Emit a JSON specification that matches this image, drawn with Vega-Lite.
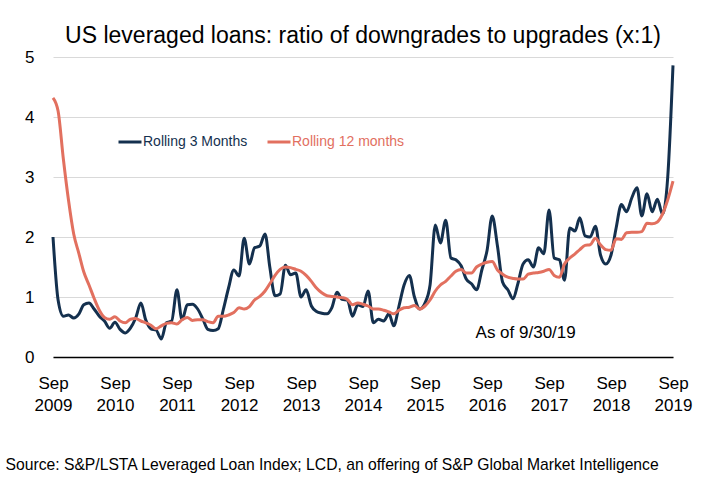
{
  "$schema": "https://vega.github.io/schema/vega-lite/v6.json",
  "width": 620,
  "height": 300,
  "autosize": {"type": "none"},
  "padding": {"left": 53, "top": 57, "right": 36, "bottom": 130},
  "background": "white",
  "title": {"text": "US leveraged loans: ratio of downgrades to upgrades (x:1)", "fontSize": 23, "font": "Liberation Sans", "fontWeight": "normal", "color": "#000000", "anchor": "middle", "offset": 4, "dy": 4},
  "config": {"view": {"stroke": null}, "font": "Liberation Sans"},
  "layer": [
    {
      "data": {"values": [
        {"date": "2009-09-01", "Rolling 3 Months": 2.0, "Rolling 12 months": 4.32},
        {"date": "2009-10-01", "Rolling 3 Months": 0.95, "Rolling 12 months": 4.1},
        {"date": "2009-11-01", "Rolling 3 Months": 0.68, "Rolling 12 months": 3.3},
        {"date": "2009-12-01", "Rolling 3 Months": 0.7, "Rolling 12 months": 2.62},
        {"date": "2010-01-01", "Rolling 3 Months": 0.65, "Rolling 12 months": 2.05},
        {"date": "2010-02-01", "Rolling 3 Months": 0.72, "Rolling 12 months": 1.72},
        {"date": "2010-03-01", "Rolling 3 Months": 0.87, "Rolling 12 months": 1.42},
        {"date": "2010-04-01", "Rolling 3 Months": 0.9, "Rolling 12 months": 1.2},
        {"date": "2010-05-01", "Rolling 3 Months": 0.8, "Rolling 12 months": 0.98},
        {"date": "2010-06-01", "Rolling 3 Months": 0.68, "Rolling 12 months": 0.78},
        {"date": "2010-07-01", "Rolling 3 Months": 0.6, "Rolling 12 months": 0.66},
        {"date": "2010-08-01", "Rolling 3 Months": 0.48, "Rolling 12 months": 0.63},
        {"date": "2010-09-01", "Rolling 3 Months": 0.58, "Rolling 12 months": 0.67},
        {"date": "2010-10-01", "Rolling 3 Months": 0.46, "Rolling 12 months": 0.6},
        {"date": "2010-11-01", "Rolling 3 Months": 0.4, "Rolling 12 months": 0.57},
        {"date": "2010-12-01", "Rolling 3 Months": 0.48, "Rolling 12 months": 0.63},
        {"date": "2011-01-01", "Rolling 3 Months": 0.65, "Rolling 12 months": 0.64},
        {"date": "2011-02-01", "Rolling 3 Months": 0.9, "Rolling 12 months": 0.6},
        {"date": "2011-03-01", "Rolling 3 Months": 0.62, "Rolling 12 months": 0.57},
        {"date": "2011-04-01", "Rolling 3 Months": 0.47, "Rolling 12 months": 0.53},
        {"date": "2011-05-01", "Rolling 3 Months": 0.45, "Rolling 12 months": 0.47},
        {"date": "2011-06-01", "Rolling 3 Months": 0.3, "Rolling 12 months": 0.52},
        {"date": "2011-07-01", "Rolling 3 Months": 0.57, "Rolling 12 months": 0.56},
        {"date": "2011-08-01", "Rolling 3 Months": 0.6, "Rolling 12 months": 0.57},
        {"date": "2011-09-01", "Rolling 3 Months": 1.12, "Rolling 12 months": 0.55},
        {"date": "2011-10-01", "Rolling 3 Months": 0.62, "Rolling 12 months": 0.62},
        {"date": "2011-11-01", "Rolling 3 Months": 0.87, "Rolling 12 months": 0.66},
        {"date": "2011-12-01", "Rolling 3 Months": 0.88, "Rolling 12 months": 0.61},
        {"date": "2012-01-01", "Rolling 3 Months": 0.8, "Rolling 12 months": 0.62},
        {"date": "2012-02-01", "Rolling 3 Months": 0.63, "Rolling 12 months": 0.62},
        {"date": "2012-03-01", "Rolling 3 Months": 0.46, "Rolling 12 months": 0.59},
        {"date": "2012-04-01", "Rolling 3 Months": 0.44, "Rolling 12 months": 0.57},
        {"date": "2012-05-01", "Rolling 3 Months": 0.47, "Rolling 12 months": 0.68},
        {"date": "2012-06-01", "Rolling 3 Months": 0.8, "Rolling 12 months": 0.68},
        {"date": "2012-07-01", "Rolling 3 Months": 1.15, "Rolling 12 months": 0.7},
        {"date": "2012-08-01", "Rolling 3 Months": 1.45, "Rolling 12 months": 0.74},
        {"date": "2012-09-01", "Rolling 3 Months": 1.35, "Rolling 12 months": 0.82},
        {"date": "2012-10-01", "Rolling 3 Months": 1.98, "Rolling 12 months": 0.8},
        {"date": "2012-11-01", "Rolling 3 Months": 1.55, "Rolling 12 months": 0.84},
        {"date": "2012-12-01", "Rolling 3 Months": 1.82, "Rolling 12 months": 0.95},
        {"date": "2013-01-01", "Rolling 3 Months": 1.85, "Rolling 12 months": 1.01},
        {"date": "2013-02-01", "Rolling 3 Months": 2.05, "Rolling 12 months": 1.1},
        {"date": "2013-03-01", "Rolling 3 Months": 1.5, "Rolling 12 months": 1.22},
        {"date": "2013-04-01", "Rolling 3 Months": 1.02, "Rolling 12 months": 1.36},
        {"date": "2013-05-01", "Rolling 3 Months": 1.05, "Rolling 12 months": 1.46},
        {"date": "2013-06-01", "Rolling 3 Months": 1.53, "Rolling 12 months": 1.5},
        {"date": "2013-07-01", "Rolling 3 Months": 1.37, "Rolling 12 months": 1.49},
        {"date": "2013-08-01", "Rolling 3 Months": 1.4, "Rolling 12 months": 1.46},
        {"date": "2013-09-01", "Rolling 3 Months": 1.0, "Rolling 12 months": 1.43},
        {"date": "2013-10-01", "Rolling 3 Months": 1.12, "Rolling 12 months": 1.36},
        {"date": "2013-11-01", "Rolling 3 Months": 0.85, "Rolling 12 months": 1.26},
        {"date": "2013-12-01", "Rolling 3 Months": 0.76, "Rolling 12 months": 1.15},
        {"date": "2014-01-01", "Rolling 3 Months": 0.73, "Rolling 12 months": 1.07},
        {"date": "2014-02-01", "Rolling 3 Months": 0.72, "Rolling 12 months": 1.02},
        {"date": "2014-03-01", "Rolling 3 Months": 0.82, "Rolling 12 months": 1.01},
        {"date": "2014-04-01", "Rolling 3 Months": 1.08, "Rolling 12 months": 1.0},
        {"date": "2014-05-01", "Rolling 3 Months": 0.96, "Rolling 12 months": 0.99},
        {"date": "2014-06-01", "Rolling 3 Months": 0.95, "Rolling 12 months": 0.96},
        {"date": "2014-07-01", "Rolling 3 Months": 0.68, "Rolling 12 months": 0.87},
        {"date": "2014-08-01", "Rolling 3 Months": 0.87, "Rolling 12 months": 0.9},
        {"date": "2014-09-01", "Rolling 3 Months": 0.84, "Rolling 12 months": 0.88},
        {"date": "2014-10-01", "Rolling 3 Months": 1.1, "Rolling 12 months": 0.85},
        {"date": "2014-11-01", "Rolling 3 Months": 0.57, "Rolling 12 months": 0.8},
        {"date": "2014-12-01", "Rolling 3 Months": 0.63, "Rolling 12 months": 0.8},
        {"date": "2015-01-01", "Rolling 3 Months": 0.6, "Rolling 12 months": 0.78},
        {"date": "2015-02-01", "Rolling 3 Months": 0.72, "Rolling 12 months": 0.75},
        {"date": "2015-03-01", "Rolling 3 Months": 0.52, "Rolling 12 months": 0.72},
        {"date": "2015-04-01", "Rolling 3 Months": 0.85, "Rolling 12 months": 0.78},
        {"date": "2015-05-01", "Rolling 3 Months": 1.2, "Rolling 12 months": 0.82},
        {"date": "2015-06-01", "Rolling 3 Months": 1.36, "Rolling 12 months": 0.83},
        {"date": "2015-07-01", "Rolling 3 Months": 1.0, "Rolling 12 months": 0.86},
        {"date": "2015-08-01", "Rolling 3 Months": 0.8, "Rolling 12 months": 0.8},
        {"date": "2015-09-01", "Rolling 3 Months": 0.9, "Rolling 12 months": 0.85},
        {"date": "2015-10-01", "Rolling 3 Months": 1.2, "Rolling 12 months": 0.95},
        {"date": "2015-11-01", "Rolling 3 Months": 2.2, "Rolling 12 months": 1.1},
        {"date": "2015-12-01", "Rolling 3 Months": 1.9, "Rolling 12 months": 1.2},
        {"date": "2016-01-01", "Rolling 3 Months": 2.28, "Rolling 12 months": 1.26},
        {"date": "2016-02-01", "Rolling 3 Months": 1.65, "Rolling 12 months": 1.35},
        {"date": "2016-03-01", "Rolling 3 Months": 1.62, "Rolling 12 months": 1.43},
        {"date": "2016-04-01", "Rolling 3 Months": 1.52, "Rolling 12 months": 1.46},
        {"date": "2016-05-01", "Rolling 3 Months": 1.3, "Rolling 12 months": 1.4},
        {"date": "2016-06-01", "Rolling 3 Months": 1.22, "Rolling 12 months": 1.4},
        {"date": "2016-07-01", "Rolling 3 Months": 1.12, "Rolling 12 months": 1.5},
        {"date": "2016-08-01", "Rolling 3 Months": 1.45, "Rolling 12 months": 1.55},
        {"date": "2016-09-01", "Rolling 3 Months": 1.78, "Rolling 12 months": 1.58},
        {"date": "2016-10-01", "Rolling 3 Months": 2.35, "Rolling 12 months": 1.59},
        {"date": "2016-11-01", "Rolling 3 Months": 1.85, "Rolling 12 months": 1.45},
        {"date": "2016-12-01", "Rolling 3 Months": 1.25, "Rolling 12 months": 1.38},
        {"date": "2017-01-01", "Rolling 3 Months": 1.12, "Rolling 12 months": 1.33},
        {"date": "2017-02-01", "Rolling 3 Months": 0.97, "Rolling 12 months": 1.31},
        {"date": "2017-03-01", "Rolling 3 Months": 1.22, "Rolling 12 months": 1.3},
        {"date": "2017-04-01", "Rolling 3 Months": 1.55, "Rolling 12 months": 1.3},
        {"date": "2017-05-01", "Rolling 3 Months": 1.62, "Rolling 12 months": 1.38},
        {"date": "2017-06-01", "Rolling 3 Months": 1.5, "Rolling 12 months": 1.4},
        {"date": "2017-07-01", "Rolling 3 Months": 1.82, "Rolling 12 months": 1.41},
        {"date": "2017-08-01", "Rolling 3 Months": 1.72, "Rolling 12 months": 1.43},
        {"date": "2017-09-01", "Rolling 3 Months": 2.45, "Rolling 12 months": 1.46},
        {"date": "2017-10-01", "Rolling 3 Months": 1.65, "Rolling 12 months": 1.36},
        {"date": "2017-11-01", "Rolling 3 Months": 1.62, "Rolling 12 months": 1.33},
        {"date": "2017-12-01", "Rolling 3 Months": 1.28, "Rolling 12 months": 1.55},
        {"date": "2018-01-01", "Rolling 3 Months": 2.15, "Rolling 12 months": 1.65},
        {"date": "2018-02-01", "Rolling 3 Months": 2.1, "Rolling 12 months": 1.72},
        {"date": "2018-03-01", "Rolling 3 Months": 2.32, "Rolling 12 months": 1.79},
        {"date": "2018-04-01", "Rolling 3 Months": 2.02, "Rolling 12 months": 1.86},
        {"date": "2018-05-01", "Rolling 3 Months": 2.0, "Rolling 12 months": 1.87},
        {"date": "2018-06-01", "Rolling 3 Months": 2.18, "Rolling 12 months": 1.98},
        {"date": "2018-07-01", "Rolling 3 Months": 1.7, "Rolling 12 months": 1.87},
        {"date": "2018-08-01", "Rolling 3 Months": 1.55, "Rolling 12 months": 1.79},
        {"date": "2018-09-01", "Rolling 3 Months": 1.7, "Rolling 12 months": 1.78},
        {"date": "2018-10-01", "Rolling 3 Months": 2.15, "Rolling 12 months": 1.97},
        {"date": "2018-11-01", "Rolling 3 Months": 2.54, "Rolling 12 months": 1.96},
        {"date": "2018-12-01", "Rolling 3 Months": 2.42, "Rolling 12 months": 2.07},
        {"date": "2019-01-01", "Rolling 3 Months": 2.65, "Rolling 12 months": 2.08},
        {"date": "2019-02-01", "Rolling 3 Months": 2.82, "Rolling 12 months": 2.08},
        {"date": "2019-03-01", "Rolling 3 Months": 2.35, "Rolling 12 months": 2.09},
        {"date": "2019-04-01", "Rolling 3 Months": 2.72, "Rolling 12 months": 2.23},
        {"date": "2019-05-01", "Rolling 3 Months": 2.42, "Rolling 12 months": 2.22},
        {"date": "2019-06-01", "Rolling 3 Months": 2.63, "Rolling 12 months": 2.25},
        {"date": "2019-07-01", "Rolling 3 Months": 2.38, "Rolling 12 months": 2.38},
        {"date": "2019-08-01", "Rolling 3 Months": 3.0, "Rolling 12 months": 2.62},
        {"date": "2019-09-01", "Rolling 3 Months": 4.86, "Rolling 12 months": 2.93}
      ]},
      "transform": [{"fold": ["Rolling 3 Months", "Rolling 12 months"], "as": ["series", "value"]}],
      "mark": {"type": "line", "interpolate": "monotone", "strokeWidth": 3},
      "encoding": {
        "x": {
          "field": "date", "type": "temporal",
          "scale": {"type": "utc", "domain": [{"year": 2009, "month": 9, "date": 1, "utc": true}, {"year": 2019, "month": 9, "date": 1, "utc": true}]},
          "axis": {
            "values": [
              {"year": 2009, "month": 9, "date": 1, "utc": true},
              {"year": 2010, "month": 9, "date": 1, "utc": true},
              {"year": 2011, "month": 9, "date": 1, "utc": true},
              {"year": 2012, "month": 9, "date": 1, "utc": true},
              {"year": 2013, "month": 9, "date": 1, "utc": true},
              {"year": 2014, "month": 9, "date": 1, "utc": true},
              {"year": 2015, "month": 9, "date": 1, "utc": true},
              {"year": 2016, "month": 9, "date": 1, "utc": true},
              {"year": 2017, "month": 9, "date": 1, "utc": true},
              {"year": 2018, "month": 9, "date": 1, "utc": true},
              {"year": 2019, "month": 9, "date": 1, "utc": true}
            ],
            "labelExpr": "[utcFormat(datum.value, '%b'), utcFormat(datum.value, '%Y')]",
            "labelFontSize": 17,
            "labelColor": "#000000",
            "labelPadding": 18,
            "labelLineHeight": 22,
            "labelFlush": false,
            "labelOverlap": false,
            "ticks": false,
            "grid": false,
            "domainColor": "#000000",
            "domainWidth": 1.5,
            "title": "Source: S&P/LSTA Leveraged Loan Index; LCD, an offering of S&P Global Market Intelligence",
            "titleFontSize": 15.7,
            "titleFontWeight": "normal",
            "titleColor": "#000000",
            "titleAnchor": "start",
            "titleAlign": "left",
            "titleBaseline": "top",
            "titleX": -48,
            "titleY": 100
          }
        },
        "y": {
          "field": "value", "type": "quantitative",
          "scale": {"domain": [0, 5]},
          "axis": {
            "values": [0, 1, 2, 3, 4, 5],
            "format": "d",
            "labelFontSize": 17,
            "labelColor": "#000000",
            "labelPadding": 19,
            "ticks": false,
            "domain": false,
            "gridColor": "#d9d9d9",
            "gridWidth": 1,
            "title": null
          }
        },
        "color": {
          "field": "series", "type": "nominal",
          "scale": {"domain": ["Rolling 3 Months", "Rolling 12 months"], "range": ["#14304e", "#e2705f"]},
          "legend": {
            "orient": "none",
            "legendX": 64,
            "legendY": 72,
            "direction": "horizontal",
            "title": null,
            "symbolType": "stroke",
            "symbolSize": 529,
            "symbolStrokeWidth": 3,
            "labelFontSize": 14,
            "labelOffset": 0,
            "columnPadding": 13,
            "padding": 0,
            "labelLimit": 300,
            "encode": {"labels": {"update": {"fill": {"scale": "color", "field": "value"}}}}
          }
        }
      }
    },
    {
      "data": {"values": [{"date": "2017-04-16", "value": 0.4, "label": "As of 9/30/19"}]},
      "mark": {"type": "text", "fontSize": 17, "color": "#000000", "align": "center", "baseline": "middle"},
      "encoding": {
        "x": {"field": "date", "type": "temporal"},
        "y": {"field": "value", "type": "quantitative"},
        "text": {"field": "label", "type": "nominal"}
      }
    }
  ]
}
